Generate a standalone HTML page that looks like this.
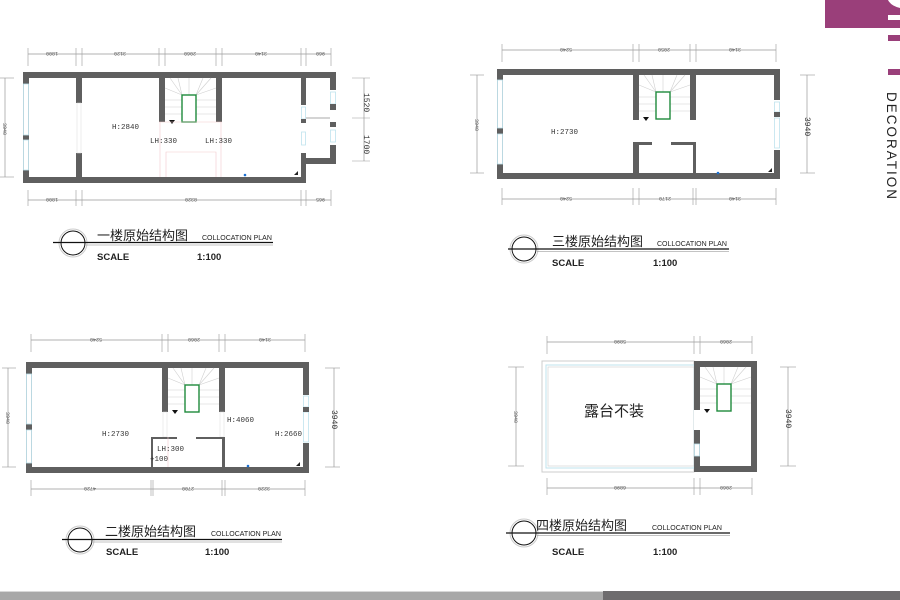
<!DOCTYPE html>
<html><head><meta charset="utf-8"><style>
html,body{margin:0;padding:0;background:#fff;width:900px;height:600px;overflow:hidden}
svg{display:block}
.w{fill:#5f5f5f}
.dim{stroke:#999;stroke-width:0.7;fill:none}
.tk{stroke:#999;stroke-width:0.6}
.dt{font-family:"Liberation Mono",monospace;font-size:5px;fill:#555}
.lbl{font-family:"Liberation Mono",monospace;font-size:7.5px;fill:#333}
.cn{font-family:"Liberation Sans","Noto Sans CJK SC",sans-serif;font-size:13px;fill:#222}
.co{font-family:"Liberation Sans",sans-serif;font-size:7px;fill:#222}
.sc{font-family:"Liberation Sans",sans-serif;font-size:9.5px;font-weight:bold;fill:#222}
.win{fill:#fff;stroke:#bfe3ee;stroke-width:0.8}
</style></head><body>
<svg width="900" height="600" viewBox="0 0 900 600" xmlns="http://www.w3.org/2000/svg">
<defs>
<g id="stair">
  <g stroke="#d0d0d0" stroke-width="0.6">
    <line x1="0" y1="22" x2="17" y2="22"/><line x1="0" y1="29" x2="17" y2="29"/><line x1="0" y1="36" x2="17" y2="36"/>
    <line x1="31" y1="22" x2="51" y2="22"/><line x1="31" y1="29" x2="51" y2="29"/><line x1="31" y1="36" x2="51" y2="36"/>
    <line x1="17" y1="17" x2="0" y2="10"/><line x1="17" y1="17" x2="5" y2="0"/><line x1="17" y1="17" x2="13" y2="0"/>
    <line x1="31" y1="17" x2="51" y2="10"/><line x1="31" y1="17" x2="46" y2="0"/><line x1="31" y1="17" x2="38" y2="0"/>
    <line x1="24" y1="17" x2="24" y2="0"/>
  </g>
  <rect x="17" y="17" width="14" height="27" fill="#fff" stroke="#1e8a3c" stroke-width="1.4"/>
  <polygon points="4,42 10,42 7,46" fill="#111"/>
</g>
</defs>

<!-- ============ PLAN 1 ============ -->
<rect class="w" x="23" y="72" width="283" height="111"/>
<rect class="w" x="306" y="72" width="30" height="92"/>
<rect fill="#fff" x="29" y="78" width="272" height="99"/>
<rect fill="#fff" x="306" y="78" width="24" height="80"/>
<rect class="win" x="23.5" y="84" width="5" height="51"/>
<rect class="win" x="23.5" y="140" width="5" height="30"/>
<rect class="w" x="76" y="78" width="6" height="25"/>
<rect class="w" x="76" y="153" width="6" height="24"/>
<rect fill="#fff" stroke="#ddd" stroke-width="0.5" x="77" y="103" width="4" height="50"/>
<rect class="w" x="159" y="78" width="6" height="44"/>
<rect class="w" x="216" y="78" width="6" height="44"/>
<use href="#stair" x="165" y="78"/>
<g stroke="#f2c9cc" stroke-width="0.6" fill="none">
<line x1="159" y1="122" x2="222" y2="122"/><line x1="160" y1="122" x2="160" y2="177"/><line x1="221" y1="122" x2="221" y2="177"/>
<polyline points="166,177 166,152 216,152 216,177"/>
</g>
<rect fill="#fff" x="301" y="105" width="5" height="48"/>
<rect class="win" x="301.5" y="107" width="4" height="12"/>
<rect class="win" x="301.5" y="132" width="4" height="13"/>
<rect class="w" x="301" y="119" width="5" height="4"/>
<line x1="306" y1="118" x2="330" y2="118" stroke="#aaa" stroke-width="1"/>
<rect fill="#fff" x="330" y="90" width="6" height="55"/>
<rect class="win" x="330.5" y="92" width="5" height="12"/>
<rect class="win" x="330.5" y="130" width="5" height="12"/>
<rect class="w" x="330" y="104" width="6" height="6"/>
<rect class="w" x="330" y="122" width="6" height="5"/>
<circle cx="245" cy="175" r="1.3" fill="#1a6fd1"/>
<polygon points="294,175 298,171 298,175" fill="#222"/>
<text class="lbl" x="112" y="129">H:2840</text>
<text class="lbl" x="150" y="143">LH:330</text>
<text class="lbl" x="205" y="143">LH:330</text>
<g class="dim"><line x1="28" y1="54" x2="331" y2="54"/><line x1="28" y1="200" x2="331" y2="200"/><line x1="5" y1="78" x2="5" y2="177"/><line x1="364" y1="78" x2="364" y2="161"/></g>
<g class="tk">
<line x1="28" y1="48" x2="28" y2="66"/><line x1="76" y1="48" x2="76" y2="66"/><line x1="82" y1="48" x2="82" y2="66"/><line x1="159" y1="48" x2="159" y2="66"/><line x1="165" y1="48" x2="165" y2="66"/><line x1="216" y1="48" x2="216" y2="66"/><line x1="222" y1="48" x2="222" y2="66"/><line x1="301" y1="48" x2="301" y2="66"/><line x1="306" y1="48" x2="306" y2="66"/><line x1="331" y1="48" x2="331" y2="66"/>
<line x1="28" y1="190" x2="28" y2="206"/><line x1="76" y1="190" x2="76" y2="206"/><line x1="82" y1="190" x2="82" y2="206"/><line x1="301" y1="190" x2="301" y2="206"/><line x1="306" y1="190" x2="306" y2="206"/><line x1="331" y1="190" x2="331" y2="206"/>
<line x1="0" y1="78" x2="14" y2="78"/><line x1="0" y1="177" x2="14" y2="177"/>
<line x1="352" y1="78" x2="370" y2="78"/><line x1="352" y1="118" x2="370" y2="118"/><line x1="352" y1="161" x2="370" y2="161"/>
</g>
<g class="dt">
<text x="46" y="56" transform="rotate(180 52 54)">1800</text><text x="114" y="56" transform="rotate(180 120 54)">3120</text><text x="184" y="56" transform="rotate(180 190 54)">2060</text><text x="255" y="56" transform="rotate(180 261 54)">3140</text><text x="313" y="56" transform="rotate(180 319 54)">960</text>
<text x="46" y="202" transform="rotate(180 52 200)">1800</text><text x="185" y="202" transform="rotate(180 191 200)">8320</text><text x="313" y="202" transform="rotate(180 319 200)">965</text>
<text x="0" y="130" transform="rotate(90 5 128)">3940</text>
</g>
<text x="358" y="99" font-family="Liberation Mono,monospace" font-size="8" fill="#333" transform="rotate(90 364 99)">1520</text>
<text x="358" y="141" font-family="Liberation Mono,monospace" font-size="8" fill="#333" transform="rotate(90 364 141)">1700</text>
<circle cx="73" cy="243" r="14" fill="none" stroke="#ccc" stroke-width="1"/>
<circle cx="73" cy="243" r="12" fill="none" stroke="#111" stroke-width="1"/>
<line x1="53" y1="242.5" x2="273" y2="242.5" stroke="#111" stroke-width="1.3"/>
<line x1="86" y1="245" x2="273" y2="245" stroke="#888" stroke-width="0.6"/>
<text class="cn" x="97" y="240">一楼原始结构图</text>
<text class="co" x="202" y="240">COLLOCATION PLAN</text>
<text class="sc" x="97" y="260">SCALE</text>
<text class="sc" x="197" y="260">1:100</text>

<!-- ============ PLAN 3 ============ -->
<rect class="w" x="497" y="69" width="283" height="110"/>
<rect fill="#fff" x="503" y="75" width="271" height="98"/>
<rect class="win" x="497.5" y="80" width="5" height="48"/>
<rect class="win" x="497.5" y="134" width="5" height="30"/>
<rect class="w" x="633" y="75" width="6" height="45"/>
<rect class="w" x="690" y="75" width="6" height="45"/>
<use href="#stair" x="639" y="75"/>
<rect class="w" x="633" y="142" width="6" height="31"/>
<rect class="w" x="639" y="142" width="13" height="3"/>
<rect class="w" x="671" y="142" width="25" height="3"/>
<rect class="w" x="693" y="142" width="3" height="31"/>
<rect fill="#fff" x="774" y="100" width="6" height="50"/>
<rect class="win" x="774.5" y="102" width="5" height="10"/>
<rect class="win" x="774.5" y="118" width="5" height="30"/>
<rect class="w" x="774" y="112" width="6" height="5"/>
<circle cx="718" cy="173" r="1.3" fill="#1a6fd1"/>
<polygon points="768,172 772,168 772,172" fill="#222"/>
<text class="lbl" x="551" y="134">H:2730</text>
<g class="dim"><line x1="502" y1="50" x2="776" y2="50"/><line x1="502" y1="199" x2="776" y2="199"/><line x1="477" y1="75" x2="477" y2="173"/><line x1="807" y1="75" x2="807" y2="173"/></g>
<g class="tk">
<line x1="502" y1="44" x2="502" y2="62"/><line x1="633" y1="44" x2="633" y2="62"/><line x1="639" y1="44" x2="639" y2="62"/><line x1="690" y1="44" x2="690" y2="62"/><line x1="696" y1="44" x2="696" y2="62"/><line x1="776" y1="44" x2="776" y2="62"/>
<line x1="502" y1="188" x2="502" y2="205"/><line x1="633" y1="188" x2="633" y2="205"/><line x1="639" y1="188" x2="639" y2="205"/><line x1="693" y1="188" x2="693" y2="205"/><line x1="696" y1="188" x2="696" y2="205"/><line x1="776" y1="188" x2="776" y2="205"/>
<line x1="470" y1="75" x2="484" y2="75"/><line x1="470" y1="173" x2="484" y2="173"/><line x1="800" y1="75" x2="815" y2="75"/><line x1="800" y1="173" x2="815" y2="173"/>
</g>
<g class="dt">
<text x="560" y="52" transform="rotate(180 566 50)">5240</text><text x="658" y="52" transform="rotate(180 664 50)">2050</text><text x="729" y="52" transform="rotate(180 735 50)">3140</text>
<text x="560" y="201" transform="rotate(180 566 199)">5240</text><text x="659" y="201" transform="rotate(180 665 199)">2170</text><text x="729" y="201" transform="rotate(180 735 199)">3140</text>
<text x="472" y="126" transform="rotate(90 477 124)">3940</text>
</g>
<text x="800" y="126" font-family="Liberation Mono,monospace" font-size="8" fill="#333" transform="rotate(90 807 124)">3940</text>
<circle cx="524" cy="249" r="14" fill="none" stroke="#ccc" stroke-width="1"/>
<circle cx="524" cy="249" r="12" fill="none" stroke="#111" stroke-width="1"/>
<line x1="508" y1="249" x2="729" y2="249" stroke="#111" stroke-width="1.3"/>
<line x1="537" y1="251.5" x2="729" y2="251.5" stroke="#888" stroke-width="0.6"/>
<text class="cn" x="552" y="246">三楼原始结构图</text>
<text class="co" x="657" y="246">COLLOCATION PLAN</text>
<text class="sc" x="552" y="266">SCALE</text>
<text class="sc" x="653" y="266">1:100</text>

<!-- ============ PLAN 2 ============ -->
<rect class="w" x="26" y="362" width="283" height="111"/>
<rect fill="#fff" x="32" y="368" width="271" height="99"/>
<rect class="win" x="26.5" y="374" width="5" height="50"/>
<rect class="win" x="26.5" y="430" width="5" height="33"/>
<rect class="w" x="162" y="368" width="6" height="44"/>
<rect class="w" x="219" y="368" width="6" height="44"/>
<rect fill="#fff" stroke="#ddd" stroke-width="0.5" x="163" y="412" width="4" height="25"/>
<rect fill="#fff" stroke="#ddd" stroke-width="0.5" x="220" y="412" width="4" height="25"/>
<use href="#stair" x="168" y="368"/>
<rect class="w" x="151" y="437" width="2" height="30"/>
<rect class="w" x="151" y="437" width="26" height="2"/>
<rect class="w" x="196" y="437" width="29" height="2"/>
<rect class="w" x="222" y="437" width="3" height="30"/>
<line x1="168" y1="437" x2="168" y2="467" stroke="#f2c9cc" stroke-width="0.6"/>
<rect fill="#fff" x="303" y="395" width="6" height="48"/>
<rect class="win" x="303.5" y="396" width="5" height="11"/>
<rect class="win" x="303.5" y="412" width="5" height="30"/>
<rect class="w" x="303" y="407" width="6" height="5"/>
<circle cx="248" cy="466" r="1.3" fill="#1a6fd1"/>
<polygon points="296,466 300,462 300,466" fill="#222"/>
<text class="lbl" x="102" y="436">H:2730</text>
<text class="lbl" x="227" y="422">H:4060</text>
<text class="lbl" x="275" y="436">H:2660</text>
<text class="lbl" x="157" y="451">LH:300</text>
<text class="lbl" x="150" y="461">+100</text>
<g class="dim"><line x1="31" y1="340" x2="305" y2="340" /><line x1="31" y1="489" x2="305" y2="489"/><line x1="8" y1="368" x2="8" y2="467"/><line x1="334" y1="368" x2="334" y2="467"/></g>
<g class="tk">
<line x1="31" y1="334" x2="31" y2="352"/><line x1="162" y1="334" x2="162" y2="352"/><line x1="168" y1="334" x2="168" y2="352"/><line x1="219" y1="334" x2="219" y2="352"/><line x1="225" y1="334" x2="225" y2="352"/><line x1="305" y1="334" x2="305" y2="352"/>
<line x1="31" y1="480" x2="31" y2="496"/><line x1="151" y1="480" x2="151" y2="496"/><line x1="153" y1="480" x2="153" y2="496"/><line x1="222" y1="480" x2="222" y2="496"/><line x1="225" y1="480" x2="225" y2="496"/><line x1="305" y1="480" x2="305" y2="496"/>
<line x1="2" y1="368" x2="16" y2="368"/><line x1="2" y1="467" x2="16" y2="467"/><line x1="325" y1="368" x2="340" y2="368"/><line x1="325" y1="467" x2="340" y2="467"/>
</g>
<g class="dt">
<text x="90" y="342" transform="rotate(180 96 340)">5240</text><text x="188" y="342" transform="rotate(180 194 340)">2060</text><text x="259" y="342" transform="rotate(180 265 340)">3140</text>
<text x="84" y="491" transform="rotate(180 90 489)">4720</text><text x="182" y="491" transform="rotate(180 188 489)">2700</text><text x="258" y="491" transform="rotate(180 264 489)">3220</text>
<text x="3" y="419" transform="rotate(90 8 417)">3940</text>
</g>
<text x="327" y="419" font-family="Liberation Mono,monospace" font-size="8" fill="#333" transform="rotate(90 334 417)">3940</text>
<circle cx="80" cy="540" r="14" fill="none" stroke="#ccc" stroke-width="1"/>
<circle cx="80" cy="540" r="12" fill="none" stroke="#111" stroke-width="1"/>
<line x1="62" y1="539.5" x2="282" y2="539.5" stroke="#111" stroke-width="1.3"/>
<line x1="93" y1="542" x2="282" y2="542" stroke="#888" stroke-width="0.6"/>
<text class="cn" x="105" y="536">二楼原始结构图</text>
<text class="co" x="211" y="536">COLLOCATION PLAN</text>
<text class="sc" x="106" y="555">SCALE</text>
<text class="sc" x="205" y="555">1:100</text>

<!-- ============ PLAN 4 ============ -->
<rect x="542" y="361" width="152" height="111" fill="#fff" stroke="#ccc" stroke-width="1"/>
<rect x="546" y="365" width="148" height="103" fill="none" stroke="#bfe3ee" stroke-width="1"/>
<rect x="548" y="367" width="146" height="99" fill="none" stroke="#ccc" stroke-width="0.6"/>
<rect class="w" x="694" y="361" width="63" height="111"/>
<rect fill="#fff" x="700" y="367" width="51" height="99"/>
<rect fill="#fff" x="694" y="410" width="6" height="20"/>
<rect class="win" x="694.5" y="444" width="5" height="12"/>
<use href="#stair" x="700" y="367"/>
<text class="cn" x="584" y="416" style="font-size:15px">露台不装</text>
<g class="dim"><line x1="547" y1="342" x2="752" y2="342"/><line x1="547" y1="488" x2="752" y2="488"/><line x1="516" y1="367" x2="516" y2="466"/><line x1="788" y1="367" x2="788" y2="466"/></g>
<g class="tk">
<line x1="547" y1="336" x2="547" y2="354"/><line x1="694" y1="336" x2="694" y2="354"/><line x1="700" y1="336" x2="700" y2="354"/><line x1="752" y1="336" x2="752" y2="354"/>
<line x1="547" y1="478" x2="547" y2="495"/><line x1="694" y1="478" x2="694" y2="495"/><line x1="700" y1="478" x2="700" y2="495"/><line x1="752" y1="478" x2="752" y2="495"/>
<line x1="508" y1="367" x2="524" y2="367"/><line x1="508" y1="466" x2="524" y2="466"/><line x1="780" y1="367" x2="796" y2="367"/><line x1="780" y1="466" x2="796" y2="466"/>
</g>
<g class="dt">
<text x="614" y="344" transform="rotate(180 620 342)">5890</text><text x="720" y="344" transform="rotate(180 726 342)">2060</text>
<text x="614" y="490" transform="rotate(180 620 488)">6890</text><text x="720" y="490" transform="rotate(180 726 488)">2060</text>
<text x="511" y="418" transform="rotate(90 516 416)">3940</text>
</g>
<text x="781" y="418" font-family="Liberation Mono,monospace" font-size="8" fill="#333" transform="rotate(90 788 416)">3940</text>
<circle cx="524" cy="533" r="14" fill="none" stroke="#ccc" stroke-width="1"/>
<circle cx="524" cy="533" r="12" fill="none" stroke="#111" stroke-width="1"/>
<line x1="506" y1="533" x2="730" y2="533" stroke="#111" stroke-width="1.3"/>
<line x1="537" y1="535.5" x2="730" y2="535.5" stroke="#888" stroke-width="0.6"/>
<text class="cn" x="536" y="530">四楼原始结构图</text>
<text class="co" x="652" y="530">COLLOCATION PLAN</text>
<text class="sc" x="552" y="555">SCALE</text>
<text class="sc" x="653" y="555">1:100</text>

<!-- ============ BRAND ============ -->
<rect x="825" y="0" width="75" height="28" fill="#9a3f7a"/>
<path d="M888 0 Q891 6 900 8 L900 0 Z" fill="#fff"/>
<rect x="888" y="15" width="12" height="5" fill="#fff"/>
<rect x="888" y="35" width="12" height="6" fill="#9a3f7a"/>
<rect x="888" y="69" width="12" height="6" fill="#9a3f7a"/>
<text x="887" y="92" font-family="Liberation Sans,sans-serif" font-size="13.5" fill="#222" letter-spacing="2" transform="rotate(90 887 92)">DECORATION</text>

<rect x="0" y="591" width="603" height="9" fill="#a8a8a8"/>
<rect x="0" y="591" width="603" height="1" fill="#d8d8d8"/>
<rect x="603" y="591" width="297" height="9" fill="#6e6c6e"/>
</svg>
</body></html>
